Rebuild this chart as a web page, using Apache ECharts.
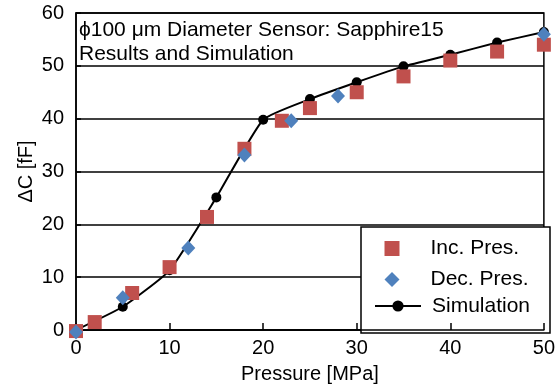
<!DOCTYPE html>
<html>
<head>
<meta charset="utf-8">
<script src="https://cdn.jsdelivr.net/npm/echarts@6/dist/echarts.min.js"></script>
<style>
  html, body { margin: 0; padding: 0; background: #fff; }
  #chart { width: 558px; height: 389px; }
</style>
</head>
<body>
<div id="chart"></div>
<script>
// pressure [MPa] / delta C [fF]
var incP = [0, 2, 6, 10, 14, 18, 22, 25, 30, 35, 40, 45, 50];
var incC = [-0.2, 1.5, 7.0, 11.9, 21.4, 34.3, 39.6, 42.0, 45.0, 48.0, 51.0, 52.7, 54.0];

var decP = [0, 5, 12, 18, 23, 28, 50];
var decC = [-0.4, 6.1, 15.5, 33.1, 39.6, 44.3, 56.0];

var simP = [0, 5, 10, 15, 20, 25, 30, 35, 40, 45, 50];
var simC = [0, 4.4, 11.3, 25.1, 39.8, 43.7, 46.9, 49.9, 52.1, 54.4, 56.4];

var xTicks = [0, 10, 20, 30, 40, 50];
var yTicks = [0, 10, 20, 30, 40, 50, 60];

function pairs(xs, ys) {
  return xs.map(function (x, i) { return [x, ys[i]]; });
}

var font = 'Arial, "Liberation Sans", sans-serif';
var chart = echarts.init(document.getElementById('chart'), null, { renderer: 'canvas' });

var legendText = { fontFamily: font, fontSize: 21, color: '#000', lineHeight: 21 };

var option = {
  animation: false,
  backgroundColor: '#fff',
  textStyle: { fontFamily: font },
  title: {
    text: 'ϕ100 μm Diameter Sensor: Sapphire15\nResults and Simulation',
    left: 79,
    top: 18,
    padding: 0,
    textStyle: { fontFamily: font, fontSize: 21, fontWeight: 'normal', color: '#000', lineHeight: 24 }
  },
  grid: {
    left: 76, right: 8, top: 13, bottom: 56,
    show: true, borderColor: '#000', borderWidth: 1.5, backgroundColor: 'transparent'
  },
  legend: [{
    orient: 'vertical',
    left: 384.5,
    top: 238,
    itemWidth: 15,
    itemHeight: 15,
    itemGap: 10,
    padding: 0,
    data: ['Inc. Pres.', 'Dec. Pres.'],
    textStyle: Object.assign({ padding: [0, 0, 0, 26] }, legendText),
    z: 3
  }, {
    orient: 'vertical',
    left: 374,
    top: 295.5,
    itemWidth: 46,
    itemHeight: 14,
    padding: 0,
    data: ['Simulation'],
    textStyle: Object.assign({ padding: [0, 0, 0, 6] }, legendText),
    z: 3
  }],
  graphic: [{
    type: 'rect',
    z: 1,
    shape: { x: 361, y: 227, width: 189, height: 106 },
    style: { fill: '#fff', stroke: '#000', lineWidth: 1.5 }
  }],
  xAxis: {
    type: 'value',
    min: 0, max: 50, interval: 10,
    z: 2,
    name: 'Pressure [MPa]',
    nameLocation: 'middle',
    nameGap: 34,
    nameMoveOverlap: false,
    nameTextStyle: { fontFamily: font, fontSize: 20, color: '#000' },
    axisLine: { show: true, onZero: false, lineStyle: { color: '#000', width: 1.5 } },
    axisTick: { show: true, inside: true, length: 7, lineStyle: { color: '#000', width: 1.5 } },
    axisLabel: {
      fontFamily: font, fontSize: 20, color: '#000', margin: 8,
      formatter: function (v) { return xTicks.indexOf(v) >= 0 ? String(v) : ''; }
    },
    splitLine: { show: false }
  },
  yAxis: {
    type: 'value',
    min: 0, max: 60, interval: 10,
    z: 0,
    name: 'ΔC [fF]',
    nameLocation: 'middle',
    nameGap: 40,
    nameMoveOverlap: false,
    nameTextStyle: { fontFamily: font, fontSize: 20, color: '#000' },
    axisLine: { show: true, lineStyle: { color: '#000', width: 1.5 } },
    axisTick: { show: true, inside: true, length: 5, lineStyle: { color: '#000', width: 1.5 } },
    axisLabel: {
      fontFamily: font, fontSize: 20, color: '#000', margin: 12,
      formatter: function (v) { return yTicks.indexOf(v) >= 0 ? String(v) : ''; }
    },
    splitLine: { show: true, lineStyle: { color: '#000', width: 1.5 } }
  },
  series: [
    {
      name: 'Simulation',
      type: 'line',
      data: pairs(simP, simC),
      smooth: 0.15,
      symbol: 'circle',
      symbolSize: 10,
      showAllSymbol: true,
      clip: false,
      z: 4,
      itemStyle: { color: '#000' },
      lineStyle: { color: '#000', width: 2 }
    },
    {
      name: 'Inc. Pres.',
      type: 'scatter',
      data: pairs(incP, incC),
      symbol: 'rect',
      symbolSize: 14,
      clip: false,
      z: 5,
      itemStyle: { color: '#C0504D', opacity: 1 }
    },
    {
      name: 'Dec. Pres.',
      type: 'scatter',
      data: pairs(decP, decC),
      symbol: 'diamond',
      symbolSize: [14, 15],
      clip: false,
      z: 6,
      itemStyle: { color: '#4F81BD', opacity: 1 }
    }
  ]
};

chart.setOption(option);
</script>
</body>
</html>
